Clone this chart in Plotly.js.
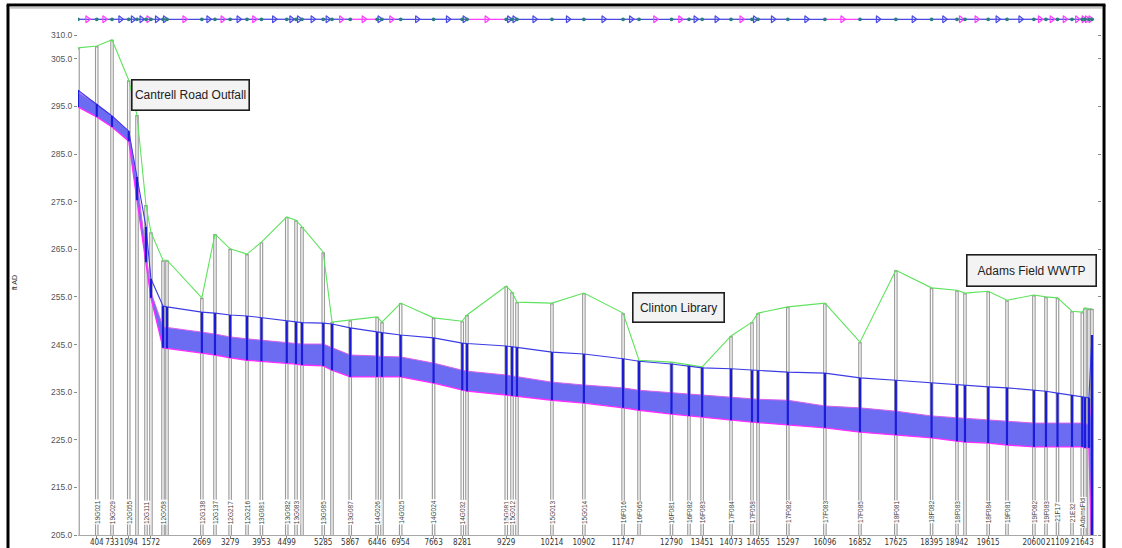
<!DOCTYPE html>
<html>
<head>
<meta charset="utf-8">
<script src="https://cdn.plot.ly/plotly-3.0.1.min.js"></script>
<style>
  html, body { margin: 0; padding: 0; background: #fff; }
  #chart { width: 1122px; height: 548px; }
</style>
</head>
<body>
<div id="chart"></div>
<script>
// Interceptor profile: Cantrell Road Outfall to Adams Field WWTP
// Station (ft) of each manhole along the line
const stations = [
  0, 404, 733, 1094, 1271, 1465, 1572, 1832, 1918, 2669,
  2952, 3279, 3642, 3953, 4499, 4698, 4827, 5285, 5474, 5867,
  6446, 6551, 6954, 7663, 8281, 8383, 9229, 9353, 9460, 10214,
  10902, 11747, 12090, 12790, 13167, 13451, 14073, 14525, 14655, 15297,
  16096, 16852, 17625, 18395, 18942, 19115, 19615, 20020, 20600, 20860,
  21109, 21421, 21643, 21701, 21787, 21852
];
// Rim / ground elevation (ft)
const groundElev = [
  307.3, 307.7, 309.0, 300.5, 293.2, 274.3, 268.6, 262.7, 262.7, 254.8,
  268.2, 265.1, 264.0, 266.5, 271.8, 271.1, 269.7, 264.4, 249.7, 250.1,
  250.8, 249.7, 253.7, 250.6, 249.9, 251.2, 257.3, 256.0, 253.9, 253.7,
  255.8, 251.6, 241.7, 241.3, 240.7, 240.3, 246.8, 249.7, 251.6, 252.9,
  253.7, 245.5, 260.6, 256.9, 256.4, 255.8, 256.2, 254.3, 255.4, 255.0,
  254.8, 252.0, 251.8, 252.7, 252.5, 252.5
];
// Pipe crown elevation (ft)
const crownElev = [
  298.4, 295.5, 293.0, 289.8, 280.2, 269.7, 258.8, 253.1, 252.9, 251.8,
  251.6, 251.2, 251.0, 250.6, 249.9, 249.7, 249.6, 249.5, 249.3, 248.5,
  247.6, 247.5, 247.0, 246.4, 245.3, 245.2, 244.7, 244.5, 244.4, 243.4,
  243.0, 242.0, 241.5, 240.9, 240.5, 240.1, 239.9, 239.6, 239.5, 239.2,
  239.0, 238.0, 237.5, 236.9, 236.5, 236.4, 236.1, 235.9, 235.4, 235.2,
  234.8, 234.4, 234.0, 233.9, 233.8, 247.0
];
// Water surface elevation (ft)
const waterElev = [
  298.0, 295.5, 293.0, 289.8, 279.5, 264.8, 256.0, 248.7, 248.6, 247.6,
  247.2, 246.6, 246.2, 245.9, 245.5, 245.3, 245.1, 245.1, 244.3, 242.8,
  242.6, 242.5, 242.4, 241.1, 239.6, 239.4, 238.6, 238.4, 238.3, 237.1,
  236.5, 235.9, 235.4, 234.8, 234.6, 234.4, 234.0, 233.6, 233.5, 233.3,
  232.1, 231.7, 231.0, 230.0, 229.6, 229.5, 229.1, 228.9, 228.5, 228.5,
  228.5, 228.5, 228.5, 228.3, 228.3, 233.8
];
// Pipe invert elevation (ft)
const invertElev = [
  294.9, 292.8, 290.7, 287.7, 275.3, 262.3, 254.8, 244.3, 244.2, 243.2,
  242.8, 242.2, 241.7, 241.5, 241.1, 240.9, 240.7, 240.5, 239.6, 238.2,
  238.2, 238.2, 238.2, 236.9, 235.4, 235.2, 234.4, 234.2, 234.1, 233.3,
  232.7, 231.7, 231.2, 230.4, 230.0, 229.8, 229.1, 228.7, 228.6, 228.1,
  227.5, 226.6, 226.0, 225.4, 224.7, 224.5, 224.3, 223.9, 223.5, 223.5,
  223.5, 223.5, 223.5, 223.3, 223.3, 200.0
];
// Manhole IDs written at the foot of each manhole ('' = not labelled)
const nodeIds = [
  '', '19G021', '19G029', '12G055', '', '12G111', '', '12G058', '', '12G138',
  '12G137', '12G217', '12G216', '13G081', '13G082', '13G083', '', '13G085', '', '13G087',
  '14G026', '', '14G025', '14G024', '14G032', '', '15G081', '15G012', '', '15G013',
  '15G014', '16F016', '16F065', '16F081', '16F082', '16F083', '17F084', '17F058', '', '17F082',
  '17F083', '17F085', '18F081', '18F082', '18F083', '', '18F084', '19F081', '19F082', '19F083',
  '21F17', '21E32', 'AdamsFld', '', '', ''
];
// Link state in the plan strip: 0 normal, 1 flagged arrow, 2 flagged link
const linkStatus = [
  1, 1, 0, 0, 0, 1, 0, 0, 1, 0,
  1, 0, 1, 0, 0, 0, 0, 0, 1, 2,
  0, 1, 0, 0, 0, 2, 0, 0, 0, 0,
  0, 0, 1, 1, 0, 0, 1, 0, 0, 0,
  2, 0, 0, 0, 1, 1, 0, 0, 1, 1,
  1, 1, 1, 1, 1
];
// Station ticks along the bottom axis
const tickStations = [
  404, 733, 1094, 1572, 2669, 3279, 3953, 4499, 5285, 5867, 6446,
  6954, 7663, 8281, 9229, 10214, 10902, 11747, 12790, 13451, 14073,
  14655, 15297, 16096, 16852, 17625, 18395, 18942, 19615, 20600, 21109, 21643
];
// Elevation ticks
const elevTicks = [205, 215, 225, 235, 245, 255, 265, 275, 285, 295, 305, 310];
const elevTickLabels = elevTicks.map(v => v.toFixed(1));
// Callout labels
const calloutText = ['Cantrell Road Outfall', 'Clinton Library', 'Adams Field WWTP'];

const AXIS_BOTTOM = 205;
const PLAN_Y = 313.3;
const FONT = 'Liberation Sans, Arial, sans-serif';
const NARROW = 'Liberation Sans Narrow, DejaVu Sans Condensed, Liberation Sans, sans-serif';

// vertical segments, one per node, separated by nulls
function verticals(xs, tops, bottoms) {
  const x = [], y = [];
  xs.forEach((s, i) => {
    const b = Array.isArray(bottoms) ? bottoms[i] : bottoms;
    x.push(s, s, null);
    y.push(tops[i], b, null);
  });
  return { x, y };
}

const traces = [];

// manhole walls (double grey line)
const mhOuter = verticals(stations, groundElev, AXIS_BOTTOM - 2);
traces.push({ x: mhOuter.x, y: mhOuter.y, mode: 'lines', hoverinfo: 'skip',
  line: { color: '#9a9a9a', width: 3.6 } });
const mhInner = verticals(stations, groundElev.map(g => g - 0.3), AXIS_BOTTOM - 2);
traces.push({ x: mhInner.x, y: mhInner.y, mode: 'lines', hoverinfo: 'skip',
  line: { color: '#ffffff', width: 1.3 } });

// ground surface
traces.push({ x: stations, y: groundElev, mode: 'lines', name: 'Ground',
  line: { color: '#5ee35e', width: 1.1 } });

// pipe invert and water surface with fill between
traces.push({ x: stations, y: invertElev, mode: 'lines', name: 'Invert',
  line: { color: '#ff2cff', width: 1.3 } });
traces.push({ x: stations, y: waterElev, mode: 'lines', name: 'Water',
  fill: 'tonexty', fillcolor: '#6c6cf3',
  line: { color: '#d860ea', width: 1 } });

// pipe crown
traces.push({ x: stations, y: crownElev, mode: 'lines', name: 'Crown',
  line: { color: '#3b3be6', width: 1.1 } });

// water column in each manhole
const mhWater = verticals(stations, crownElev, invertElev);
traces.push({ x: mhWater.x, y: mhWater.y, mode: 'lines', hoverinfo: 'skip',
  line: { color: '#1c1cd8', width: 2.2 } });

// plan strip along the top
const planBlue = { x: [], y: [] }, planPink = { x: [], y: [] };
const arrowX = [], arrowColor = [];
for (let i = 0; i < stations.length - 1; i++) {
  const tgt = linkStatus[i] === 2 ? planPink : planBlue;
  tgt.x.push(stations[i], stations[i + 1], null);
  tgt.y.push(PLAN_Y, PLAN_Y, null);
  arrowX.push((stations[i] + stations[i + 1]) / 2);
  arrowColor.push(linkStatus[i] === 0 ? '#4a4ae8' : '#ff3cff');
}
traces.push({ x: planBlue.x, y: planBlue.y, mode: 'lines', hoverinfo: 'skip',
  line: { color: '#4a4ae0', width: 1.3 } });
traces.push({ x: planPink.x, y: planPink.y, mode: 'lines', hoverinfo: 'skip',
  line: { color: '#ff3cff', width: 1.3 } });
traces.push({ x: arrowX, y: arrowX.map(() => PLAN_Y), mode: 'markers', hoverinfo: 'skip',
  marker: { symbol: 'triangle-right-open', size: 6, color: arrowColor,
    line: { color: arrowColor, width: 1.2 } } });
traces.push({ x: stations, y: stations.map(() => PLAN_Y), mode: 'markers', hoverinfo: 'skip',
  marker: { color: '#2a7d80', size: 3.8 } });

// annotations
const annotations = [];
nodeIds.forEach((id, i) => {
  if (!id) return;
  annotations.push({ x: stations[i], y: 209.8, xref: 'x', yref: 'y', text: id,
    textangle: -90, showarrow: false, bgcolor: '#ffffff', borderpad: 0,
    xanchor: 'center', yanchor: 'middle',
    font: { family: FONT, size: 6.5, color: '#444' } });
});
const calloutPos = [
  { x: 2435, y: 297.4, w: 114, h: 27 },
  { x: 12941, y: 252.7, w: 88, h: 26 },
  { x: 20548, y: 260.6, w: 126, h: 28 }
];
calloutText.forEach((t, i) => {
  const p = calloutPos[i];
  annotations.push({ x: p.x, y: p.y, xref: 'x', yref: 'y', text: t, showarrow: false,
    xanchor: 'center', yanchor: 'middle',
    width: p.w, height: p.h, bgcolor: '#f3f3f3', bordercolor: '#1e1e1e', borderwidth: 1.6,
    borderpad: 1, font: { family: FONT, size: 12, color: '#222' } });
});
annotations.push({ x: -0.0628, y: 257.9, xref: 'paper', yref: 'y', text: 'ft AD',
  xanchor: 'center', yanchor: 'middle',
  textangle: -90, showarrow: false, font: { family: FONT, size: 7, color: '#333' } });

// outer frame
const shapes = [
  { type: 'line', xref: 'paper', yref: 'paper', x0: -0.0687, x1: -0.0687, y0: 1.0057, y1: -0.05,
    line: { color: '#000', width: 3 } },
  { type: 'line', xref: 'paper', yref: 'paper', x0: -0.0700, x1: 1.0083, y0: 1.0057, y1: 1.0057,
    line: { color: '#000', width: 3 } },
  { type: 'line', xref: 'paper', yref: 'paper', x0: 1.0069, x1: 1.0069, y0: 1.0057, y1: -0.05,
    line: { color: '#000', width: 3 } },
  { type: 'line', xref: 'paper', yref: 'paper', x0: -0.067, x1: 1.005, y0: 1.0005, y1: 1.0005,
    line: { color: '#c4c4c4', width: 2 } }
];

const layout = {
  width: 1122, height: 548,
  margin: { l: 78, r: 25, t: 8, b: 13 },
  paper_bgcolor: '#ffffff', plot_bgcolor: '#ffffff',
  showlegend: false,
  font: { family: FONT },
  xaxis: {
    range: [0, 21960], showgrid: false, zeroline: false,
    showline: true, linecolor: '#a8a8a8', linewidth: 1,
    tickmode: 'array', tickvals: tickStations, ticktext: tickStations.map(String),
    ticks: 'outside', ticklen: 3, tickcolor: '#888', tickangle: 0,
    ticklabelstandoff: -4,
    tickfont: { family: NARROW, size: 8, color: '#333' }, automargin: false
  },
  yaxis: {
    range: [205, 315.67], showgrid: false, zeroline: false, showline: false,
    tickmode: 'array', tickvals: elevTicks, ticktext: elevTickLabels,
    ticks: 'outside', ticklen: 3, tickcolor: '#888', mirror: 'ticks',
    tickfont: { family: FONT, size: 8.5, color: '#555' }, automargin: false
  },
  annotations, shapes
};

Plotly.newPlot('chart', traces, layout, { staticPlot: true, displayModeBar: false });
</script>
</body>
</html>
